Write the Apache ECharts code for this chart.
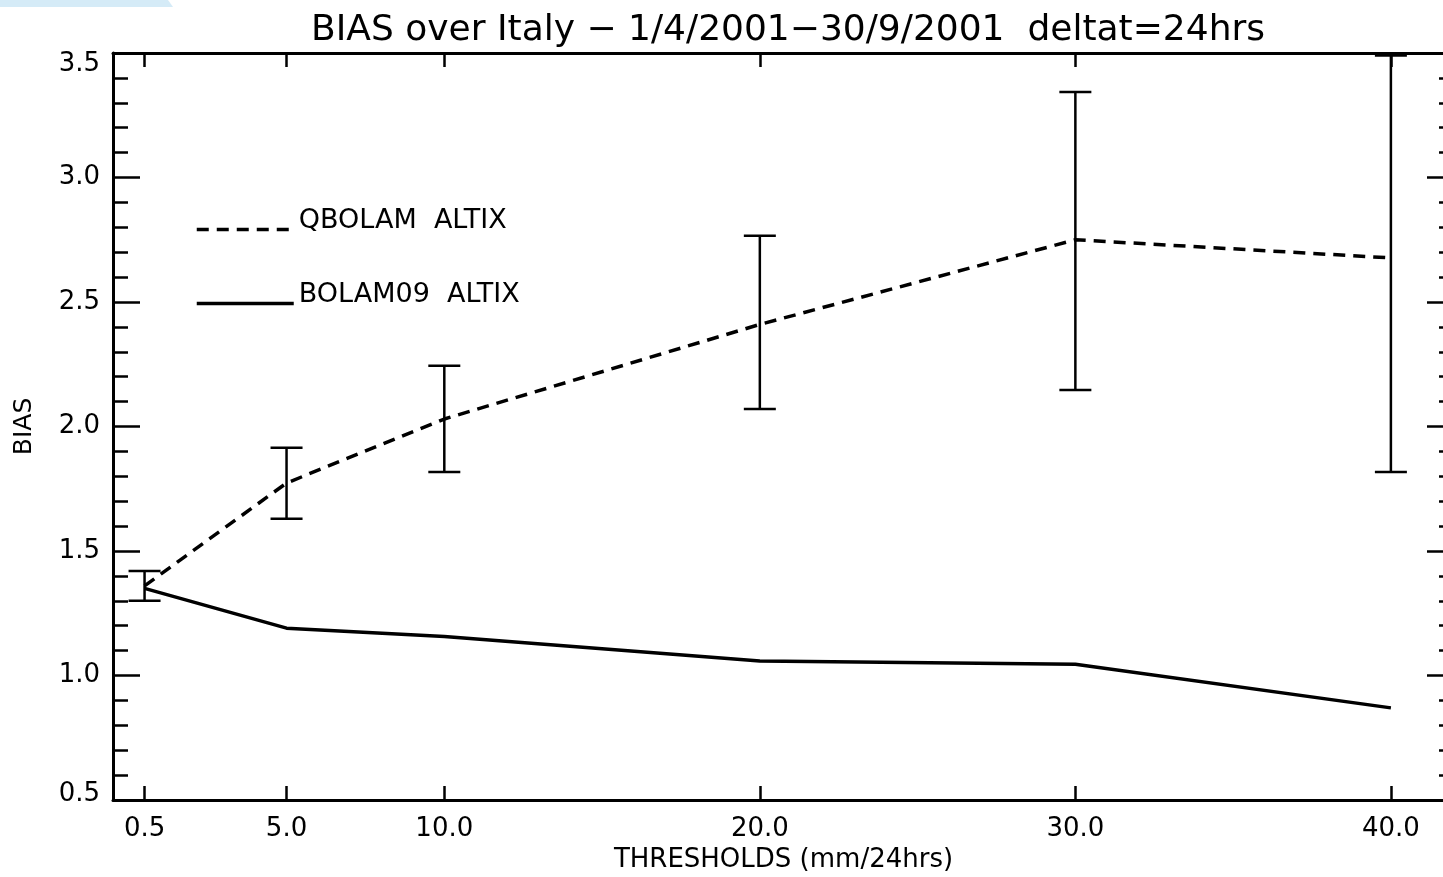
<!DOCTYPE html>
<html>
<head>
<meta charset="utf-8">
<script src="https://cdn.jsdelivr.net/npm/echarts@6/dist/echarts.min.js"></script>
<style>
  html, body { margin: 0; padding: 0; background: #fff; }
  #chart { width: 1443px; height: 877px; }
</style>
</head>
<body>
<div id="chart"></div>
<script>
// thresholds (mm/24hrs) and BIAS values
const thresholds = [0.5, 5.0, 10.0, 20.0, 30.0, 40.0];
const xTickValues = [0.5, 5.0, 10.0, 20.0, 30.0, 40.0];
const qbolamBias = [1.36, 1.773, 2.03, 2.41, 2.75, 2.677];
const bolam09Bias = [1.35, 1.19, 1.157, 1.058, 1.045, 0.87];
const errLow = [1.30, 1.63, 1.817, 2.07, 2.147, 1.817];
const errHigh = [1.42, 1.915, 2.244, 2.766, 3.343, 3.49];

const FONT = 'DejaVu Sans';

const myChart = echarts.init(document.getElementById('chart'));

const yAxisBase = {
  type: 'value',
  min: 0.5,
  max: 3.5,
  interval: 0.5,
  axisLine: { show: true, onZero: false, lineStyle: { color: '#000', width: 3 } },
  axisTick: { show: true, inside: true, length: 27, lineStyle: { color: '#000', width: 2.5 } },
  minorTick: { show: true, splitNumber: 5, length: 15, lineStyle: { color: '#000', width: 2.5 } },
  splitLine: { show: false }
};

const xAxisBase = {
  type: 'value',
  min: -0.5,
  max: 42,
  axisLine: { show: true, onZero: false, lineStyle: { color: '#000', width: 3 } },
  axisTick: { show: true, inside: true, length: 14, customValues: xTickValues, lineStyle: { color: '#000', width: 2.5 } },
  splitLine: { show: false }
};

// legend text sits a little above its line sample, as in the original plot
const legendBase = {
  left: 190,
  itemWidth: 97,
  itemHeight: 10,
  itemStyle: { opacity: 0 },
  lineStyle: { color: '#000', width: 3.5, opacity: 1 },
  formatter: (name) => '{t|' + name + '}',
  textStyle: {
    fontFamily: FONT, fontSize: 27, color: '#000',
    rich: { t: { fontFamily: FONT, fontSize: 27, color: '#000', padding: [0, 0, 18, 0] } }
  }
};

const option = {
  backgroundColor: '#fff',
  animation: false,
  title: {
    text: 'BIAS over Italy \u2212 1/4/2001\u221230/9/2001  deltat=24hrs',
    left: 783,
    top: 8,
    textAlign: 'center',
    textStyle: { fontFamily: FONT, fontSize: 36, fontWeight: 'normal', color: '#000' }
  },
  graphic: [{
    type: 'polygon',
    shape: { points: [[0, 0], [168, 0], [173, 7], [0, 7]] },
    style: { fill: '#d5ebf7' }
  }],
  legend: [
    Object.assign({}, legendBase, { data: ['QBOLAM  ALTIX'], top: 202 }),
    Object.assign({}, legendBase, { data: ['BOLAM09  ALTIX'], top: 276 })
  ],
  grid: { left: 113, top: 53, width: 1341, height: 747, outerBoundsMode: 'none', containLabel: false },
  xAxis: [
    Object.assign({}, xAxisBase, {
      position: 'bottom',
      name: 'THRESHOLDS (mm/24hrs)',
      nameLocation: 'middle',
      nameGap: 42,
      nameTextStyle: { fontFamily: FONT, fontSize: 26, color: '#000' },
      axisLabel: {
        customValues: xTickValues,
        margin: 16,
        fontFamily: FONT,
        fontSize: 26,
        color: '#000',
        formatter: (v) => v.toFixed(1)
      }
    }),
    Object.assign({}, xAxisBase, {
      position: 'top',
      axisLabel: { show: false }
    })
  ],
  yAxis: [
    Object.assign({}, yAxisBase, {
      position: 'left',
      name: 'BIAS',
      nameLocation: 'middle',
      nameGap: 76,
      nameTextStyle: { fontFamily: FONT, fontSize: 25, color: '#000' },
      axisLabel: {
        margin: 13,
        fontFamily: FONT,
        fontSize: 26,
        color: '#000',
        formatter: (v) => {
          if (v === 3.5) return '{top|3.5}';
          if (v === 0.5) return '{bot|0.5}';
          return v.toFixed(1);
        },
        rich: {
          top: { fontFamily: FONT, fontSize: 26, color: '#000', padding: [22, 0, 0, 0] },
          bot: { fontFamily: FONT, fontSize: 26, color: '#000', padding: [0, 0, 12, 0] }
        }
      }
    }),
    Object.assign({}, yAxisBase, {
      position: 'right',
      axisLabel: { show: false }
    })
  ],
  series: [
    {
      name: 'error bars',
      type: 'custom',
      xAxisIndex: 0,
      yAxisIndex: 0,
      data: thresholds.map((x, i) => [x, errLow[i], errHigh[i]]),
      renderItem(params, api) {
        const x = api.value(0);
        const pLo = api.coord([x, api.value(1)]);
        const pHi = api.coord([x, api.value(2)]);
        const w = 16;
        const st = { stroke: '#000', lineWidth: 2.5 };
        return {
          type: 'group',
          children: [
            { type: 'line', shape: { x1: pHi[0], y1: pHi[1], x2: pLo[0], y2: pLo[1] }, style: st },
            { type: 'line', shape: { x1: pHi[0] - w, y1: pHi[1], x2: pHi[0] + w, y2: pHi[1] }, style: st },
            { type: 'line', shape: { x1: pLo[0] - w, y1: pLo[1], x2: pLo[0] + w, y2: pLo[1] }, style: st }
          ]
        };
      },
      z: 2
    },
    {
      name: 'QBOLAM  ALTIX',
      type: 'line',
      symbol: 'none',
      data: thresholds.map((x, i) => [x, qbolamBias[i]]),
      lineStyle: { color: '#000', width: 3.5, type: [12, 8] },
      itemStyle: { color: '#000' },
      z: 3
    },
    {
      name: 'BOLAM09  ALTIX',
      type: 'line',
      symbol: 'none',
      data: thresholds.map((x, i) => [x, bolam09Bias[i]]),
      lineStyle: { color: '#000', width: 3.5, type: 'solid' },
      itemStyle: { color: '#000' },
      z: 3
    }
  ]
};

myChart.setOption(option);
</script>
</body>
</html>
